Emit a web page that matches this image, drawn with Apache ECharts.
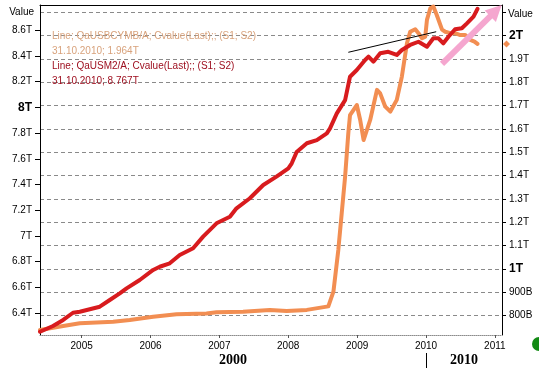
<!DOCTYPE html>
<html><head><meta charset="utf-8">
<script src="https://cdn.jsdelivr.net/npm/echarts@6/dist/echarts.min.js"></script>
<style>html,body{margin:0;padding:0;background:#fff}#c{width:553px;height:373px}</style>
</head><body><div id="c"></div>
<script>
// ---- data ----
const m2Dates = ['2004-05-25','2004-08-02','2004-09-25','2004-11-16','2004-12-22','2005-04-07','2005-05-30','2005-07-22','2005-08-27','2005-11-05',
 '2006-01-15','2006-02-19','2006-04-13','2006-06-05','2006-08-15','2006-10-07','2006-12-17','2007-02-26','2007-04-02','2007-06-12',
 '2007-08-22','2007-10-31','2008-01-02','2008-01-20','2008-02-15','2008-04-09','2008-06-01','2008-07-24','2008-08-10','2008-09-15',
 '2008-10-29','2008-11-24','2008-12-30','2009-02-12','2009-03-02','2009-03-28','2009-05-03','2009-06-15','2009-07-30','2009-08-26',
 '2009-10-09','2009-11-22','2010-01-06','2010-02-09','2010-03-08','2010-04-03','2010-04-30','2010-06-04','2010-07-10','2010-08-06',
 '2010-09-10','2010-10-01'];
const m2Values = [6.254,6.299,6.346,6.402,6.410,6.449,6.501,6.553,6.592,6.657,
 6.735,6.760,6.787,6.851,6.904,6.994,7.098,7.149,7.215,7.293,
 7.396,7.461,7.526,7.565,7.653,7.721,7.746,7.798,7.837,7.954,
 8.057,8.239,8.291,8.369,8.395,8.356,8.421,8.433,8.408,8.447,
 8.486,8.511,8.472,8.538,8.538,8.499,8.550,8.608,8.616,8.654,
 8.706,8.767];
const baseDates = ['2004-05-25','2004-09-25','2004-12-22','2005-06-17','2005-09-13','2006-01-15','2006-05-19','2006-10-25','2006-12-17','2007-05-07',
 '2007-09-26','2007-12-24','2008-04-09','2008-08-01','2008-08-28','2008-09-23','2008-10-11','2008-10-29','2008-11-15','2008-11-24',
 '2008-12-30','2009-01-17','2009-02-04','2009-03-11','2009-04-16','2009-05-03','2009-05-30','2009-06-26','2009-07-30','2009-08-26',
 '2009-09-22','2009-10-09','2009-11-05','2009-11-22','2009-12-11','2009-12-28','2010-01-06','2010-01-24','2010-02-09','2010-02-27',
 '2010-03-27','2010-04-13','2010-05-10','2010-06-04','2010-07-02','2010-07-28','2010-08-24','2010-09-15','2010-10-01'];
const baseValues = [0.738,0.755,0.767,0.773,0.781,0.795,0.805,0.809,0.814,0.816,
 0.824,0.819,0.824,0.839,0.902,1.081,1.238,1.395,1.581,1.659,
 1.702,1.638,1.552,1.638,1.767,1.752,1.695,1.674,1.724,1.824,
 1.967,2.016,2.027,2.010,1.988,1.995,2.067,2.117,2.124,2.088,
 2.025,2.016,2.010,2.010,2.002,2.002,1.981,1.974,1.964];
const xTickYears = [2005,2006,2007,2008,2009,2010,2011];
const xRange = ['2004-05-25','2011-02-08'];
const leftTicks = [6.4,6.6,6.8,7,7.2,7.4,7.6,7.8,8,8.2,8.4,8.6];
const leftRange = [6.2288, 8.797];
const rightLabelTicks = [0.8,0.9,1,1.1,1.2,1.3,1.4,1.5,1.6,1.7,1.8,1.9,2];
const rightGridTicks = [0.8,0.9,1,1.1,1.2,1.3,1.4,1.5,1.6,1.7,1.8,1.9,2,2.1];
const rightRange = [0.7164, 2.1307];
const trendLine = [['2008-11-15', 8.429], ['2010-02-24', 8.589]];
const arrowLine = [['2010-03-27', 8.338], ['2011-01-07', 8.753]];
const decadeLabels = ['2000', '2010'];
const decadeBreakYear = 2010;
const baseLegend = 'Line; QaUSBCYMB/A; Cvalue(Last);; (S1; S2)';
const m2Legend = 'Line; QaUSM2/A; Cvalue(Last);; (S1; S2)';
const lastDateLabel = '31.10.2010';

// ---- chart ----
const FONT = '"Liberation Sans", Arial, sans-serif';
const toTs = s => { const p = s.split('-').map(Number); return new Date(p[0], p[1]-1, p[2]).getTime(); };
const yearTs = xTickYears.map(y => new Date(y, 0, 1).getTime());
const xMin = toTs(xRange[0]), xMax = toTs(xRange[1]);
const RED = '#d81b1e', ORANGE = '#f28e52';

const chart = echarts.init(document.getElementById('c'), null, {renderer: 'canvas'});
const boldRich = {b: {fontWeight: 'bold', fontSize: 12, fontFamily: FONT, color: '#000'}};

chart.setOption({
  animation: false,
  backgroundColor: '#fff',
  grid: {left: 40, right: 51, top: 5, bottom: 38, containLabel: false},
  xAxis: [{
    type: 'value', min: xMin, max: xMax, position: 'bottom',
    axisLine: {show: true, onZero: false, lineStyle: {color: '#8c8c8c', type: 'dotted', width: 1}},
    axisTick: {show: true, length: 3, customValues: yearTs, lineStyle: {color: '#555'}},
    axisLabel: {customValues: yearTs, formatter: v => String(new Date(v).getFullYear()),
      fontSize: 10, fontFamily: FONT, color: '#000', margin: 6},
    splitLine: {show: false}
  }, {
    type: 'value', min: xMin, max: xMax, position: 'top',
    axisLine: {show: true, onZero: false, lineStyle: {color: '#000', width: 1}},
    axisTick: {show: false}, axisLabel: {show: false}, splitLine: {show: false}
  }],
  yAxis: [{
    type: 'value', position: 'left', min: leftRange[0], max: leftRange[1],
    axisLine: {show: true, onZero: false, lineStyle: {color: '#000', width: 1}},
    axisTick: {show: true, length: 5, customValues: leftTicks, lineStyle: {color: '#000'}},
    axisLabel: {customValues: leftTicks, margin: 8, fontSize: 10, fontFamily: FONT, color: '#000',
      formatter: v => v === 8 ? '{b|8T}' : v + 'T', rich: boldRich},
    splitLine: {show: false}
  }, {
    type: 'value', position: 'right', min: rightRange[0], max: rightRange[1],
    axisLine: {show: true, onZero: false, lineStyle: {color: '#000', width: 1}},
    axisTick: {show: true, length: 4, customValues: rightGridTicks, lineStyle: {color: '#000'}},
    axisLabel: {customValues: rightLabelTicks, margin: 7, fontSize: 10, fontFamily: FONT, color: '#000',
      formatter: v => v < 1 ? Math.round(v * 1000) + 'B' : ((v === 1 || v === 2) ? '{b|' + v + 'T}' : v + 'T'),
      rich: boldRich},
    splitLine: {show: true, lineStyle: {color: '#8a8a8a', type: [4, 3], width: 1}}
  }],
  series: [{
    name: 'QaUSBCYMB/A', type: 'line', yAxisIndex: 1, xAxisIndex: 0,
    data: baseDates.map((d, i) => [toTs(d), baseValues[i]]),
    showSymbol: false, smooth: false,
    lineStyle: {color: ORANGE, width: 4, cap: 'round', join: 'round'}, itemStyle: {color: ORANGE}
  }, {
    name: 'QaUSM2/A', type: 'line', yAxisIndex: 0, xAxisIndex: 0,
    data: m2Dates.map((d, i) => [toTs(d), m2Values[i]]),
    showSymbol: false, smooth: false,
    lineStyle: {color: RED, width: 4, cap: 'round', join: 'round'}, itemStyle: {color: RED},
    markLine: {
      silent: true, animation: false, label: {show: false}, symbol: ['none', 'none'],
      data: [
        [{coord: [toTs(trendLine[0][0]), trendLine[0][1]], symbol: 'none', lineStyle: {color: '#000', width: 1, type: 'solid'}},
         {coord: [toTs(trendLine[1][0]), trendLine[1][1]], symbol: 'none'}],
        [{coord: [toTs(arrowLine[0][0]), arrowLine[0][1]], symbol: 'none', lineStyle: {color: '#f5a6cf', width: 6, type: 'solid', cap: 'butt'}},
         {coord: [toTs(arrowLine[1][0]), arrowLine[1][1]], symbol: 'triangle', symbolSize: [16, 16]}]
      ]
    }
  }]
});

// ---- annotations computed from scales ----
const sepX = chart.convertToPixel({xAxisIndex: 0}, new Date(decadeBreakYear, 0, 1).getTime());
const leftX = chart.convertToPixel({xAxisIndex: 0}, xMin);
const rightX = chart.convertToPixel({xAxisIndex: 0}, xMax);
const lastBaseY = chart.convertToPixel({yAxisIndex: 1}, baseValues[baseValues.length - 1]);
const legFont = '10px ' + FONT;
const mk = (x, y, text, color, align) => ({type: 'text', x: x, y: y, silent: true,
  style: {text: text, fill: color, font: legFont, align: align || 'left', verticalAlign: 'middle'}});

chart.setOption({
  graphic: [
    mk(52, 36, baseLegend, '#d8a27c'),
    mk(52, 51, lastDateLabel + '; ' + baseValues[baseValues.length - 1].toFixed(3) + 'T', '#d8a27c'),
    mk(52, 66, m2Legend, '#9e1020'),
    mk(52, 81, lastDateLabel + '; ' + m2Values[m2Values.length - 1].toFixed(3) + 'T', '#9e1020'),
    mk(34, 12, 'Value', '#000', 'right'),
    mk(508, 14, 'Value', '#000', 'left'),
    {type: 'text', x: (leftX + sepX) / 2, y: 360, silent: true,
      style: {text: decadeLabels[0], fill: '#000', font: 'bold 14px "Liberation Serif", "Times New Roman", serif', align: 'center', verticalAlign: 'middle'}},
    {type: 'text', x: (sepX + rightX) / 2, y: 360, silent: true,
      style: {text: decadeLabels[1], fill: '#000', font: 'bold 14px "Liberation Serif", "Times New Roman", serif', align: 'center', verticalAlign: 'middle'}},
    {type: 'line', silent: true, shape: {x1: Math.round(sepX) + 0.5, y1: 353, x2: Math.round(sepX) + 0.5, y2: 368},
      style: {stroke: '#000', lineWidth: 1}},
    {type: 'polygon', silent: true,
      shape: {points: [[rightX + 4.5, lastBaseY - 3.5], [rightX + 8, lastBaseY], [rightX + 4.5, lastBaseY + 3.5], [rightX + 1, lastBaseY]]},
      style: {fill: ORANGE}},
    {type: 'sector', silent: true,
      shape: {cx: 539, cy: 344, r: 7, r0: 0, startAngle: Math.PI / 2, endAngle: Math.PI * 3 / 2, clockwise: true},
      style: {fill: '#128a14'}}
  ]
});
</script></body></html>
